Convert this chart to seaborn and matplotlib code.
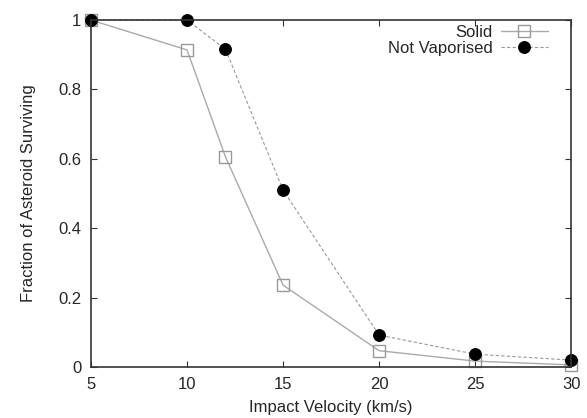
import pandas as pd
import matplotlib
matplotlib.use("Agg")
import matplotlib.pyplot as plt
import seaborn as sns
from matplotlib.ticker import FuncFormatter

velocity = [5, 10, 12, 15, 20, 25, 30]
solid = [1.0, 0.914, 0.606, 0.236, 0.047, 0.017, 0.006]
not_vaporised = [1.0, 1.0, 0.916, 0.51, 0.092, 0.037, 0.02]


def main():
    sns.set_style("ticks")
    plt.rcParams['font.family'] = ['Liberation Sans', 'DejaVu Sans']
    df = pd.DataFrame({'v': velocity, 'solid': solid, 'nv': not_vaporised})

    fig, ax = plt.subplots(figsize=(5.87, 4.18), dpi=100)
    sns.lineplot(data=df, x='v', y='solid', ax=ax, color='#aaaaaa', lw=1.0,
                 marker='s', markersize=8.5, markerfacecolor='none',
                 markeredgecolor='#999999', markeredgewidth=1.0, label='Solid')
    sns.lineplot(data=df, x='v', y='nv', ax=ax, color='#999999', lw=0.8,
                 linestyle=(0, (3, 2)), marker='o', markersize=8.5,
                 markerfacecolor='black', markeredgecolor='black',
                 label='Not Vaporised')
    for ln in ax.lines:
        ln.set_clip_on(False)

    ax.set_xlim(5, 30)
    ax.set_ylim(0, 1)
    ax.set_xticks([5, 10, 15, 20, 25, 30])
    ax.set_yticks([0, 0.2, 0.4, 0.6, 0.8, 1])
    ax.yaxis.set_major_formatter(FuncFormatter(lambda v, p: '%g' % v))
    ax.tick_params(direction='in', top=True, right=True, length=4,
                   labelsize=12, color='#333333', pad=7)
    for s in ax.spines.values():
        s.set_linewidth(1.2)
        s.set_color('#333333')
    ax.set_xlabel('Impact Velocity (km/s)', fontsize=12, labelpad=6)
    ax.set_ylabel('Fraction of Asteroid Surviving', fontsize=12, labelpad=16)

    ax.legend(loc='upper right', bbox_to_anchor=(0.965, 1.005), frameon=False,
              markerfirst=False, fontsize=12, handlelength=2.8,
              borderaxespad=0.0, labelspacing=0.05, handletextpad=0.5)

    plt.subplots_adjust(left=0.155, right=0.973, top=0.952, bottom=0.122)
    fig.savefig("out.png", dpi=100)


if __name__ == '__main__':
    main()
